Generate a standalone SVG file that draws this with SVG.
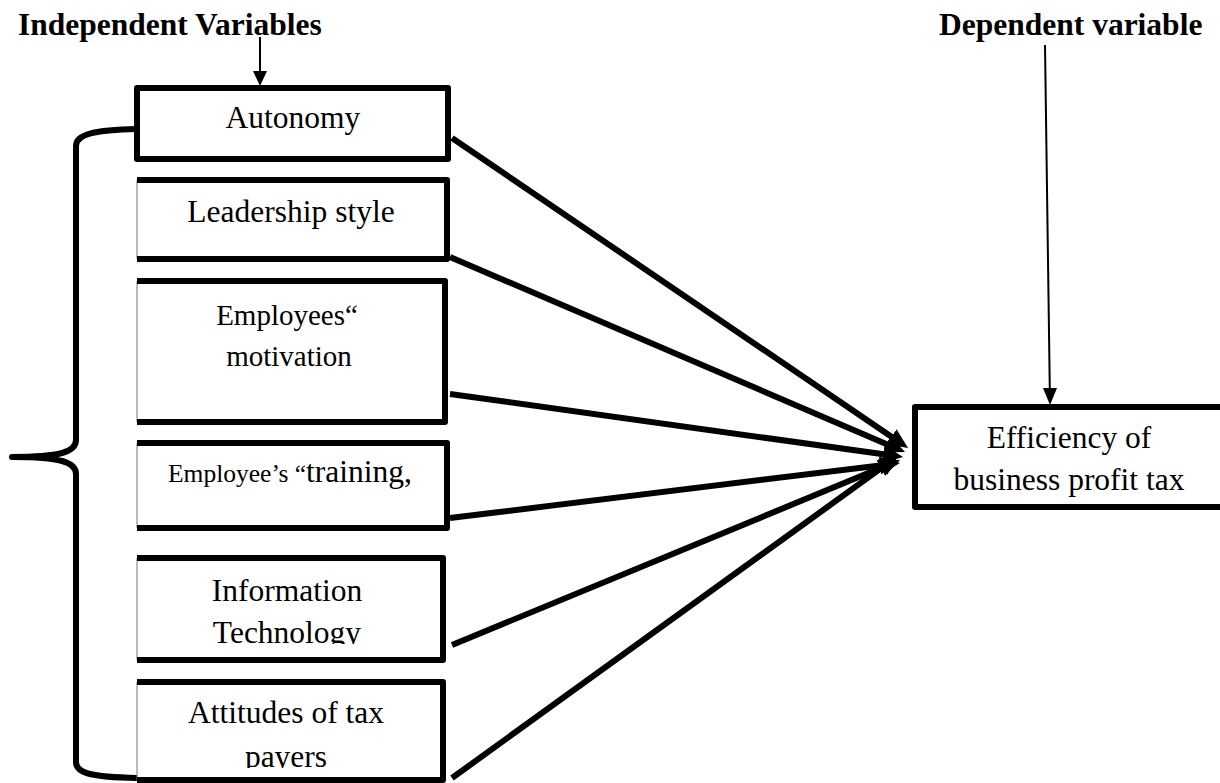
<svg xmlns="http://www.w3.org/2000/svg" width="1220" height="783" viewBox="0 0 1220 783">
<style>
.t{font-family:"Liberation Serif","Times New Roman",serif;font-size:31.5px;fill:#000;text-anchor:middle}
.b{font-weight:bold;text-anchor:start}
.bx{fill:#fff;stroke:none}
.edge{fill:none;stroke:#000;stroke-width:6;stroke-linejoin:round}
.thin{stroke:#777;stroke-width:1}
.conn{stroke:#000;stroke-width:6;fill:none;marker-end:url(#ah)}
.ptr{stroke:#000;stroke-width:2;fill:none}
</style>
<defs>
<marker id="ah" markerUnits="userSpaceOnUse" viewBox="0 0 20 18" markerWidth="20" markerHeight="18" refX="4" refY="9" orient="auto">
<path d="M0,0 L20,9 L0,18 z" fill="#000"/>
</marker>
<clipPath id="clipTech"><rect x="137" y="555" width="310" height="89"/></clipPath>
<clipPath id="clipPay"><rect x="137" y="680" width="310" height="88"/></clipPath>
</defs>

<text class="t b" x="18" y="35">Independent Variables</text>
<text class="t b" x="939" y="35">Dependent variable</text>

<g id="brace">
<path class="edge" d="M137,129 C95,130 76,134 76,146 L76,440 C76,452 60,457 12,457 C60,457 76,462 76,474 L76,762 C76,773 90,777 137,778"/>
</g>

<g id="n-autonomy">
<rect class="bx" x="137" y="88" width="311" height="71"/>
<rect class="edge" x="137" y="88" width="311" height="71"/>
<text class="t" x="293" y="128">Autonomy</text>
</g>

<g id="n-leadership">
<rect class="bx" x="137" y="180" width="310" height="79"/>
<line class="thin" x1="137" y1="180" x2="137" y2="259"/>
<path class="edge" d="M137,180 H447 V259 H137"/>
<text class="t" x="291" y="222">Leadership style</text>
</g>

<g id="n-motivation">
<rect class="bx" x="137" y="281" width="308" height="141"/>
<line class="thin" x1="137" y1="281" x2="137" y2="422"/>
<path class="edge" d="M137,281 H445 V422 H137"/>
<text class="t" x="287" y="325" style="font-size:29px">Employees&#8220;</text>
<text class="t" x="289" y="366" style="font-size:29px">motivation</text>
</g>

<g id="n-training">
<rect class="bx" x="137" y="443" width="310" height="85"/>
<line class="thin" x1="137" y1="443" x2="137" y2="528"/>
<path class="edge" d="M137,443 H447 V528 H137"/>
<text class="t" x="290" y="482"><tspan style="font-size:25.5px">Employee&#8217;s &#8220;</tspan>training,</text>
</g>

<g id="n-it">
<rect class="bx" x="137" y="558" width="306" height="102"/>
<line class="thin" x1="137" y1="558" x2="137" y2="660"/>
<path class="edge" d="M137,558 H443 V660 H137"/>
<g clip-path="url(#clipTech)">
<text class="t" x="287" y="601">Information</text>
<text class="t" x="287" y="643">Technology</text>
</g>
</g>

<g id="n-attitudes">
<rect class="bx" x="137" y="682" width="306" height="98"/>
<line class="thin" x1="137" y1="682" x2="137" y2="780"/>
<path class="edge" d="M137,682 H443 V780 H137"/>
<g clip-path="url(#clipPay)">
<text class="t" x="286" y="723">Attitudes of tax</text>
<text class="t" x="286" y="767">payers</text>
</g>
</g>

<g id="n-efficiency">
<rect class="bx" x="915" y="407" width="330" height="100"/>
<rect class="edge" x="915" y="407" width="330" height="100"/>
<text class="t" x="1069" y="448">Efficiency of</text>
<text class="t" x="1069" y="490">business profit tax</text>
</g>

<g id="connectors">
<line class="conn" x1="452" y1="138" x2="894.8" y2="439"/>
<line class="conn" x1="450" y1="257" x2="890.3" y2="445.7"/>
<line class="conn" x1="450" y1="394" x2="887.2" y2="454.8"/>
<line class="conn" x1="450" y1="518" x2="884.1" y2="464.9"/>
<line class="conn" x1="452" y1="645" x2="885.2" y2="466.1"/>
<line class="conn" x1="452" y1="778" x2="885" y2="465.4"/>
<line class="ptr" x1="260" y1="37" x2="260" y2="73"/>
<polygon points="260,86 253,71 267,71" fill="#000"/>
<line class="ptr" x1="1045" y1="45" x2="1049.8" y2="390"/>
<polygon points="1050,405 1043,388 1057,388" fill="#000"/>
</g>
</svg>
